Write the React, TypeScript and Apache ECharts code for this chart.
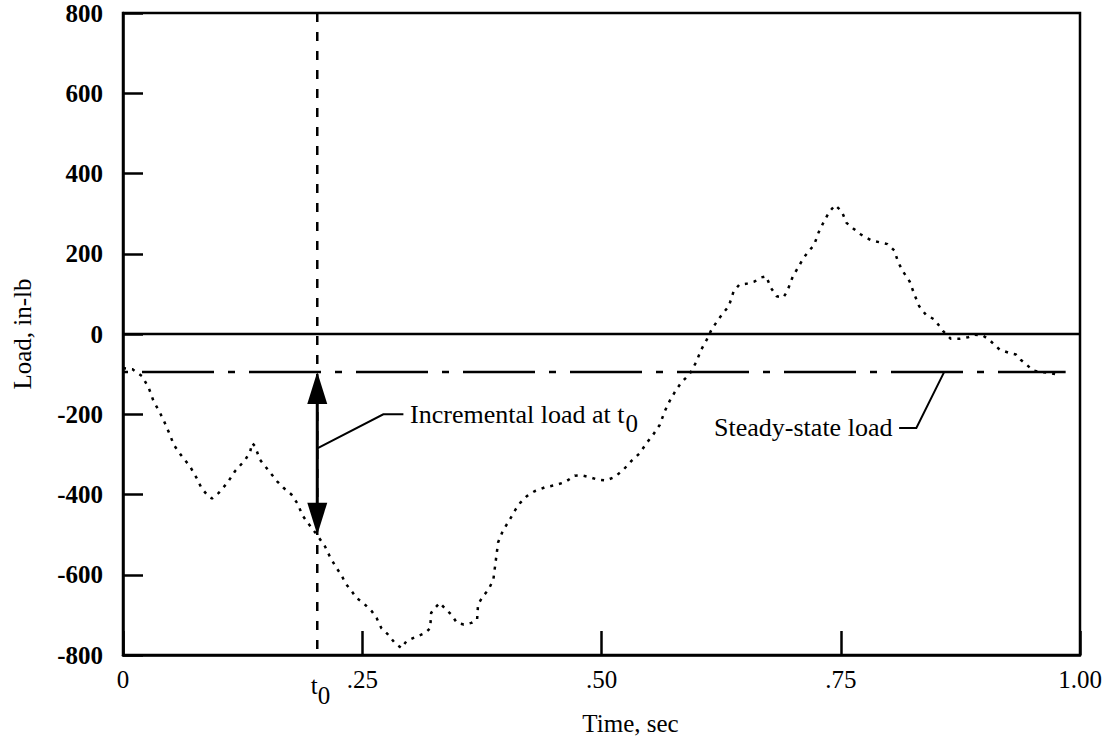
import React, { useEffect, useRef } from 'react';
import * as echarts from 'echarts';

// ---- data ----
const timeSec = [
  0.0, 0.01, 0.02, 0.027, 0.032, 0.038, 0.043, 0.049, 0.053, 0.06, 0.07, 0.077, 0.082, 0.089, 0.093,
  0.1, 0.109, 0.117, 0.128, 0.133, 0.135, 0.138, 0.143, 0.15, 0.161, 0.168, 0.176, 0.183, 0.187, 0.192,
  0.2025, 0.211, 0.216, 0.222, 0.229, 0.232, 0.239, 0.244, 0.251, 0.26, 0.265, 0.27, 0.277, 0.284, 0.291,
  0.296, 0.303, 0.31, 0.316, 0.321, 0.322, 0.326, 0.331, 0.336, 0.343, 0.349, 0.356, 0.364, 0.37, 0.371,
  0.376, 0.382, 0.387, 0.392, 0.397, 0.404, 0.41, 0.415, 0.422, 0.43, 0.441, 0.451, 0.462, 0.472, 0.479,
  0.488, 0.496, 0.505, 0.514, 0.523, 0.531, 0.54, 0.547, 0.554, 0.561, 0.566, 0.571, 0.577, 0.583, 0.592,
  0.599, 0.604, 0.61, 0.615, 0.622, 0.627, 0.633, 0.638, 0.644, 0.651, 0.66, 0.667, 0.672, 0.677, 0.683,
  0.69, 0.694, 0.7, 0.705, 0.711, 0.717, 0.722, 0.727, 0.733, 0.738, 0.744, 0.751, 0.756, 0.763, 0.771,
  0.782, 0.79, 0.799, 0.806, 0.81, 0.815, 0.822, 0.827, 0.832, 0.839, 0.848, 0.857, 0.865, 0.874, 0.883,
  0.89, 0.898, 0.905, 0.916, 0.926, 0.933, 0.938, 0.944, 0.951, 0.959, 0.968, 0.98,
];
const loadInLb = [
  -85, -88, -105, -135, -168, -193, -218, -251, -276, -300, -330, -359, -384, -404, -410,
  -396, -371, -342, -313, -292, -272, -280, -313, -334, -367, -384, -400, -425, -450, -467,
  -500, -529, -554, -579, -604, -620, -641, -658, -670, -691, -708, -733, -749, -770, -783,
  -766, -758, -751, -745, -733, -695, -683, -670, -683, -699, -720, -724, -720, -712, -674,
  -654, -637, -612, -519, -490, -463, -438, -421, -404, -392, -382, -377, -369, -353, -352,
  -357, -363, -365, -356, -338, -317, -297, -272, -251, -226, -193, -168, -143, -122, -100,
  -70, -40, -14, 11, 36, 52, 69, 106, 123, 125, 131, 141, 144, 115, 94,
  91, 106, 144, 164, 189, 208, 221, 254, 283, 304, 321, 306, 277, 263, 248,
  233, 229, 224, 208, 179, 156, 131, 98, 69, 48, 36, 7, -12, -12, -8,
  -2, -3, -14, -39, -47, -51, -64, -76, -91, -95, -97, -103,
];
const xTickValues = [0, 0.25, 0.5, 0.75, 1.0];
const xTickLabels = ['0', '.25', '.50', '.75', '1.00'];
const T0 = 0.203;             // time t0, sec
const STEADY_LOAD = -95;      // steady-state load, in-lb
const LOAD_AT_T0 = -500;      // load at t0, in-lb
const STEADY_END = 0.985;     // end of the steady-state line, sec

const FONT = "'Liberation Serif', 'Times New Roman', serif";

function measure(text: string, size: number): number {
  const c = document.createElement('canvas').getContext('2d');
  if (!c) return text.length * size * 0.45;
  c.font = `${size}px ${FONT}`;
  return c.measureText(text).width;
}

function textEl(x: number, y: number, text: string, size: number, align: string, vAlign = 'middle') {
  return {
    type: 'text',
    x,
    y,
    style: {
      text,
      fill: '#000',
      font: `${size}px ${FONT}`,
      align,
      textAlign: align,
      verticalAlign: vAlign,
      textVerticalAlign: vAlign,
    },
  };
}

export default function App() {
  const ref = useRef<HTMLDivElement>(null);

  useEffect(() => {
    if (!ref.current) return;
    const chart = echarts.init(ref.current, null, { renderer: 'svg' });

    const curve = timeSec.map((t, i) => [t, loadInLb[i]]);

    const renderAnnotations = (_params: any, api: any) => {
      const children: any[] = [];
      const top = api.coord([T0, STEADY_LOAD]);
      const bot = api.coord([T0, LOAD_AT_T0]);
      const headL = 32;
      const headW = 10;
      children.push({
        type: 'line',
        shape: { x1: top[0], y1: top[1] + headL - 2, x2: bot[0], y2: bot[1] - headL + 2 },
        style: { stroke: '#000', lineWidth: 3 },
      });
      children.push({
        type: 'polygon',
        shape: { points: [[top[0], top[1]], [top[0] - headW, top[1] + headL], [top[0] + headW, top[1] + headL]] },
        style: { fill: '#000' },
      });
      children.push({
        type: 'polygon',
        shape: { points: [[bot[0], bot[1]], [bot[0] - headW, bot[1] - headL], [bot[0] + headW, bot[1] - headL]] },
        style: { fill: '#000' },
      });

      // leader for incremental load
      const a1 = api.coord([T0, -285]);
      const a2 = api.coord([0.272, -200]);
      const a3 = api.coord([0.293, -200]);
      children.push({
        type: 'polyline',
        shape: { points: [a1, a2, a3] },
        style: { stroke: '#000', lineWidth: 2, fill: 'none' },
      });
      const tp = api.coord([0.300, -200]);
      const mainTxt = 'Incremental load at t';
      children.push(textEl(tp[0], tp[1], mainTxt, 26, 'left'));
      children.push(textEl(tp[0] + measure(mainTxt, 26) + 1, tp[1] + 9, '0', 25, 'left'));

      // leader for steady-state load
      const s1 = api.coord([0.858, STEADY_LOAD]);
      const s2 = api.coord([0.829, -234]);
      const s3 = api.coord([0.811, -234]);
      children.push({
        type: 'polyline',
        shape: { points: [s1, s2, s3] },
        style: { stroke: '#000', lineWidth: 2, fill: 'none' },
      });
      const sp = api.coord([0.804, -234]);
      children.push(textEl(sp[0], sp[1], 'Steady-state load', 26, 'right'));

      // t0 label under the axis
      const xb = api.coord([T0, -800]);
      const tw = measure('t', 25);
      children.push(textEl(xb[0] - 3, xb[1] + 30, 't', 25, 'center'));
      children.push(textEl(xb[0] - 3 + tw / 2, xb[1] + 40, '0', 25, 'left'));

      return { type: 'group', children };
    };

    chart.setOption({
      animation: false,
      backgroundColor: '#fff',
      grid: {
        left: 123,
        right: 32,
        top: 13,
        bottom: 89,
        show: true,
        borderColor: '#000',
        borderWidth: 2.5,
        backgroundColor: 'transparent',
        containLabel: false,
        outerBoundsMode: 'none',
      },
      xAxis: {
        type: 'value',
        min: 0,
        max: 1,
        interval: 0.25,
        name: 'Time, sec',
        nameLocation: 'middle',
        nameGap: 56,
        nameTextStyle: { fontFamily: FONT, fontSize: 25, color: '#000', padding: [0, 0, 0, 58] },
        axisLine: { show: true, onZero: false, lineStyle: { color: '#000', width: 2.5 } },
        axisTick: { show: true, inside: true, length: 24, lineStyle: { color: '#000', width: 2.5 } },
        axisLabel: {
          fontFamily: FONT,
          fontSize: 25,
          color: '#000',
          margin: 12,
          formatter: (v: number) => {
            const i = xTickValues.findIndex((t) => Math.abs(t - v) < 1e-6);
            return i >= 0 ? xTickLabels[i] : '';
          },
        },
        splitLine: { show: false },
      },
      yAxis: {
        type: 'value',
        min: -800,
        max: 800,
        interval: 200,
        name: 'Load, in-lb',
        nameLocation: 'middle',
        nameRotate: 90,
        nameGap: 88,
        nameTextStyle: { fontFamily: FONT, fontSize: 25, color: '#000' },
        axisLine: { show: true, onZero: false, lineStyle: { color: '#000', width: 2.5 } },
        axisTick: { show: true, inside: true, length: 20, lineStyle: { color: '#000', width: 2.5 } },
        axisLabel: { fontFamily: FONT, fontSize: 25, fontWeight: 'bold', color: '#000', margin: 20 },
        splitLine: { show: false },
      },
      series: [
        {
          name: 'zero',
          type: 'line',
          data: [[0, 0], [1, 0]],
          symbol: 'none',
          lineStyle: { color: '#000', width: 2.5 },
          silent: true,
        },
        {
          name: 't0 line',
          type: 'line',
          data: [[T0, 800], [T0, -800]],
          symbol: 'none',
          lineStyle: { color: '#000', width: 2.5, type: [9, 10] },
          silent: true,
        },
        {
          name: 'steady-state',
          type: 'line',
          data: [[0, STEADY_LOAD], [STEADY_END, STEADY_LOAD]],
          symbol: 'none',
          lineStyle: { color: '#000', width: 2.5, type: [72, 14, 7, 14], dashOffset: 88 },
          silent: true,
        },
        {
          name: 'load',
          type: 'line',
          data: curve,
          symbol: 'none',
          lineStyle: { color: '#000', width: 2.5, type: [3, 6] },
          silent: true,
        },
        {
          name: 'annotations',
          type: 'custom',
          data: [[T0, STEADY_LOAD]],
          renderItem: renderAnnotations,
          clip: false,
          silent: true,
          z: 5,
        },
      ],
    });

    return () => chart.dispose();
  }, []);

  return (
    <div
      ref={ref}
      style={{ position: 'fixed', left: 0, top: 0, width: 1112, height: 744, background: '#fff' }}
    />
  );
}
